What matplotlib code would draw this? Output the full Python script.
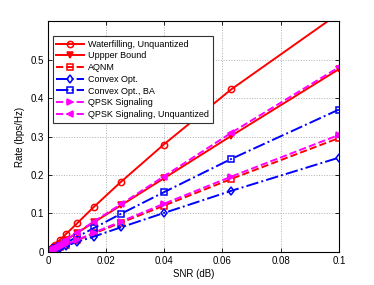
"""Rate vs SNR comparison plot."""

import matplotlib
matplotlib.use("Agg")
import matplotlib.pyplot as plt

plt.rcParams["font.family"] = ["Liberation Sans", "DejaVu Sans"]
plt.rcParams["font.size"] = 7

# SNR sample points (linear scale)
SNR = [0.001, 0.0016, 0.0025, 0.004, 0.0063, 0.01, 0.0158, 0.0251, 0.0398,
       0.0631, 0.1]

WATERFILLING = [0.0075, 0.012, 0.019, 0.030, 0.047, 0.074, 0.117, 0.182,
                0.279, 0.423, 0.62]
UPPER_BOUND = [0.005, 0.008, 0.0125, 0.020, 0.031, 0.049, 0.077, 0.121,
               0.191, 0.302, 0.475]
AQNM = [0.003, 0.0048, 0.0075, 0.012, 0.019, 0.030, 0.048, 0.076, 0.120,
        0.190, 0.296]
CONVEX = [0.0025, 0.004, 0.0063, 0.010, 0.016, 0.026, 0.040, 0.064, 0.101,
          0.159, 0.245]
CONVEX_BA = [0.0037, 0.006, 0.0094, 0.015, 0.024, 0.039, 0.062, 0.099,
             0.155, 0.242, 0.370]
QPSK = [0.003, 0.005, 0.0078, 0.0125, 0.0196, 0.031, 0.050, 0.079, 0.125,
        0.196, 0.304]
QPSK_UNQ = [0.005, 0.008, 0.0126, 0.020, 0.032, 0.050, 0.079, 0.124,
            0.196, 0.310, 0.480]

SERIES = [
    ("Waterfilling, Unquantized", WATERFILLING, "-", "o", "#ff0000", "none"),
    ("Uppper Bound", UPPER_BOUND, "-", "v", "#ff0000", "#ff0000"),
    ("AQNM", AQNM, "--", "s", "#ff0000", "none"),
    ("Convex Opt.", CONVEX, "-.", "d", "#0000ff", "none"),
    ("Convex Opt., BA", CONVEX_BA, "-.", "s", "#0000ff", "none"),
    ("QPSK Signaling", QPSK, "--", ">", "#ff00ff", "#ff00ff"),
    ("QPSK Signaling, Unquantized", QPSK_UNQ, "--", "<", "#ff00ff", "#ff00ff"),
]


def _main() -> None:
    fig = plt.figure(figsize=(3.74, 2.85), dpi=100)
    ax = fig.add_axes([0.128, 0.116, 0.778, 0.81])

    for label, vals, ls, mk, col, fc in SERIES:
        ax.plot(SNR, vals, linestyle=ls, marker=mk, color=col,
                markerfacecolor=fc, markeredgecolor=col, markersize=4.5,
                linewidth=1.4, markeredgewidth=1.1, label=label)

    ax.set_xlim(0, 0.1)
    ax.set_ylim(0, 0.6)
    ax.set_xticks([0, 0.02, 0.04, 0.06, 0.08, 0.1])
    ax.set_xticklabels(["0", "0.02", "0.04", "0.06", "0.08", "0.1"])
    ax.set_yticks([0, 0.1, 0.2, 0.3, 0.4, 0.5])
    ax.set_yticklabels(["0", "0.1", "0.2", "0.3", "0.4", "0.5"])
    ax.tick_params(direction="in", length=3, width=0.6, top=True, right=True,
                   pad=3)
    ax.grid(True, linestyle=":", color="#b0b0b0", linewidth=0.7)
    for sp in ax.spines.values():
        sp.set_linewidth(0.8)
    ax.set_xlabel("SNR (dB)", labelpad=2)
    ax.set_ylabel("Rate (bps/Hz)", labelpad=4)

    leg = ax.legend(loc="upper left", bbox_to_anchor=(0.017, 0.935),
                    fontsize=6.5, handlelength=3.0, handletextpad=0.5,
                    labelspacing=0.3, borderpad=0.4, borderaxespad=0,
                    fancybox=False, framealpha=1, edgecolor="#333333",
                    markerscale=1.0)
    leg.get_frame().set_linewidth(0.8)

    fig.savefig("out.png", dpi=100)


if __name__ == "__main__":
    _main()
